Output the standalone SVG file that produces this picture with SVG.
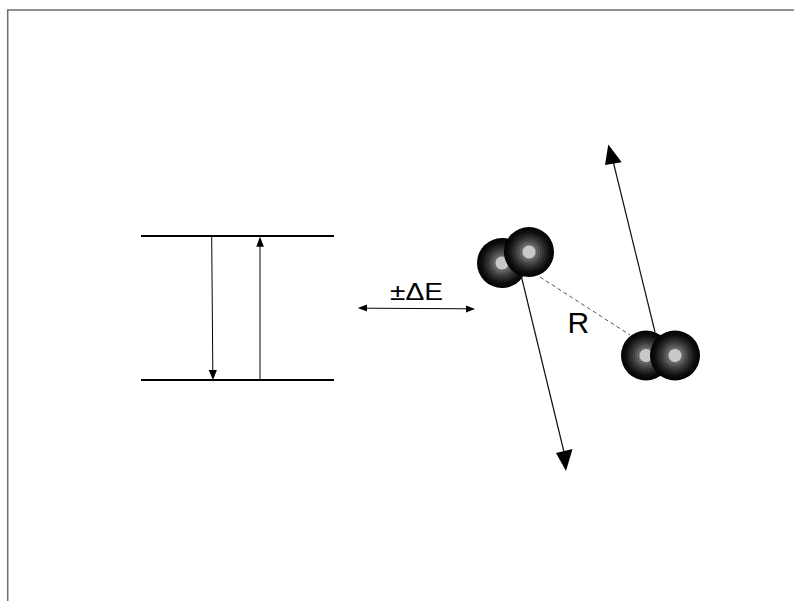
<svg xmlns="http://www.w3.org/2000/svg" width="794" height="601" viewBox="0 0 794 601">
<style>
.lvl{stroke:#000;stroke-width:2;fill:none}
.thin{stroke:#000;stroke-width:1;fill:none}
.vec{stroke:#111;stroke-width:1.2;fill:none}
.head{fill:#000;stroke:none}
.lbl{font-family:"Liberation Sans",Arial,sans-serif;fill:#000}
.ring{fill:none;stroke:#000;stroke-opacity:0.25;stroke-width:0.8}
</style>
<defs>
<radialGradient id="atomGrad" cx="0.5" cy="0.5" r="0.5">
<stop offset="0" stop-color="#c8c8c8"/>
<stop offset="0.24" stop-color="#c8c8c8"/>
<stop offset="0.27" stop-color="#7a7a7a"/>
<stop offset="0.55" stop-color="#3c3c3c"/>
<stop offset="0.8" stop-color="#121212"/>
<stop offset="1" stop-color="#000"/>
</radialGradient>
<g id="atom">
<circle r="25" fill="url(#atomGrad)"/>
<circle r="8" class="ring"/>
<circle r="10" class="ring"/>
<circle r="12" class="ring"/>
<circle r="14" class="ring"/>
<circle r="16" class="ring"/>
<circle r="18" class="ring"/>
<circle r="20" class="ring"/>
<circle r="22" class="ring"/>
</g>
</defs>
<rect width="794" height="601" fill="#fff"/>
<path d="M7.7 601 V10 H794" fill="none" stroke="#6e6e6e" stroke-width="1.5"/>

<g id="energy-levels">
<line class="lvl" x1="141" y1="236" x2="334" y2="236"/>
<line class="lvl" x1="141" y1="380" x2="334" y2="380"/>
</g>

<g id="connectors">
<line class="thin" x1="211.7" y1="237" x2="212.8" y2="371"/>
<polygon class="head" points="208.7,370 216.9,370 213,380"/>
<line class="thin" x1="260" y1="379" x2="260" y2="246"/>
<polygon class="head" points="256.3,246.8 263.9,246.8 260,236.5"/>
<line class="thin" x1="366" y1="308.2" x2="467" y2="308.8"/>
<polygon class="head" points="357.7,308 367,304.6 367,311.4"/>
<polygon class="head" points="475,309 466,305.6 466,312.4"/>
<line class="vec" x1="521.5" y1="277" x2="564" y2="452"/>
<polygon class="head" points="566,471 556,453 572.5,449"/>
<line class="vec" x1="655" y1="332" x2="613.5" y2="163"/>
<polygon class="head" points="608.3,144.5 605,165 621.7,162.3"/>
<line x1="540" y1="277" x2="630" y2="335" stroke="#555" stroke-width="1" stroke-dasharray="4 3"/>
</g>

<g id="molecule-1">
<use href="#atom" x="502" y="263"/>
<use href="#atom" x="529" y="252"/>
</g>

<g id="molecule-2">
<use href="#atom" x="646" y="355.5"/>
<use href="#atom" x="675" y="355.5"/>
</g>

<g id="labels">
<text class="lbl" x="390" y="299.5" font-size="24" textLength="53" lengthAdjust="spacingAndGlyphs">±ΔE</text>
<text class="lbl" x="567.5" y="332.7" font-size="30">R</text>
</g>
</svg>
